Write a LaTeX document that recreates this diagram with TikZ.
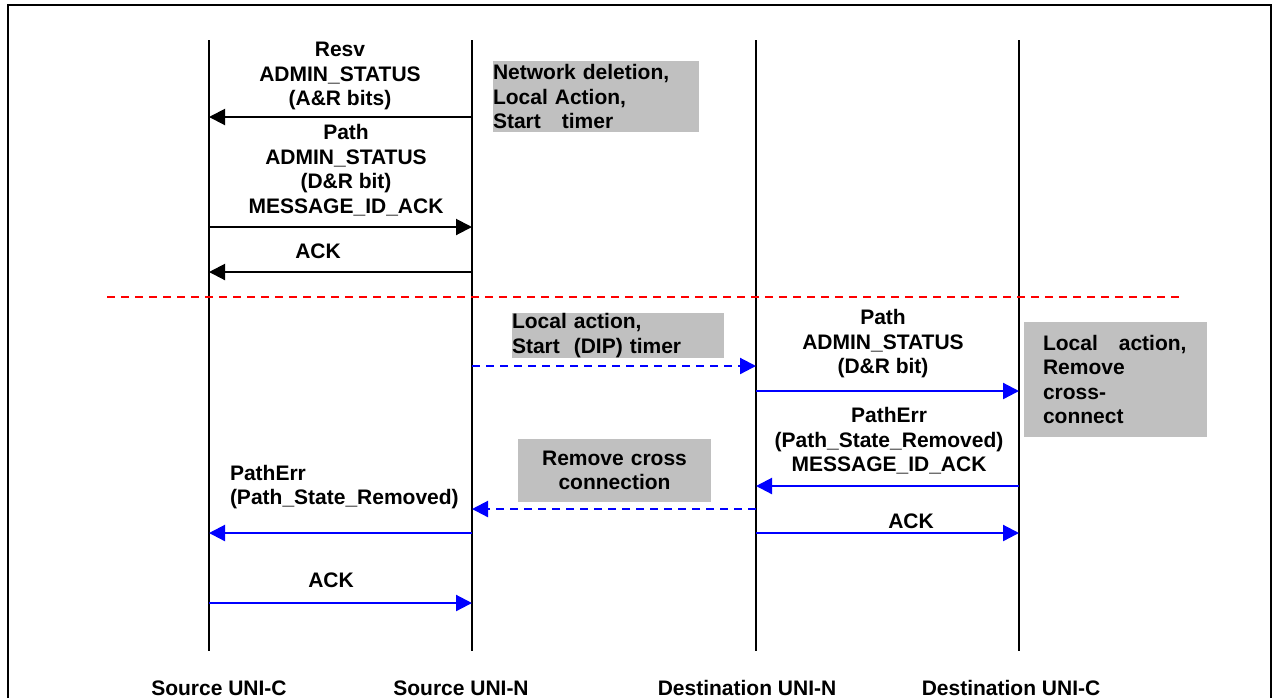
\documentclass[tikz,border=0pt]{standalone}
\usepackage{fontspec}
\setmainfont{Liberation Sans}
\usetikzlibrary{arrows.meta}

\definecolor{boxgray}{RGB}{192,192,192}

\begin{document}
\begin{tikzpicture}[x=0.5pt, y=-0.5pt, line width=1pt,
  every node/.style={font=\fontsize{10.5}{12.25}\selectfont\bfseries, inner sep=0pt},
  msg/.style={-{Triangle[length=8pt,width=8pt]}},
  blue msg/.style={msg, blue, line width=1.1pt},
  dip/.style={blue msg, dash pattern=on 4pt off 3pt},
  note/.style={fill=boxgray, align=left, text width=#1},
  lbl/.style={align=center}]

\useasboundingbox (0,0) rectangle (1272,698);

% frame
\draw[line width=1.2pt] (8,698) -- (8,5) -- (1271,5) -- (1271,698);

% lifelines and message rows
\foreach \life/\x in {srcC/209, srcN/472, dstN/756, dstC/1019}{
  \coordinate (\life-top) at (\x,40);
  \coordinate (\life-bot) at (\x,651);
  \foreach \row/\y in {resv/117, path/227, ack/272, dip/366, pathd/391, errd/486, rmv/509, errs/533, ackd/533, acks/603}
    \coordinate (\life-\row) at (\x,\y);
  \draw (\life-top) -- (\life-bot);
}

% separator
\coordinate (sep-l) at (107,297);
\coordinate (sep-r) at (1180,297);
\draw[red, dash pattern=on 4pt off 3pt] (sep-l) -- (sep-r);

% upper part
\draw[msg] (srcN-resv) -- (srcC-resv);
\draw[msg] (srcC-path) -- (srcN-path);
\draw[msg] (srcN-ack) -- (srcC-ack);
\node[lbl] (resv) at (340,76) {Resv\\ADMIN\_STATUS\\(A\&R bits)};
\node[lbl] (pathMsg) at (346,170) {Path\\ADMIN\_STATUS\\(D\&R bit)\\MESSAGE\_ID\_ACK};
\node (ackUp) at (318,251) {ACK};
\node[note=103pt, minimum height=35.5pt] (netDel) at (596,96.5) {Network deletion,\\Local Action,\\Start~~~timer};

% lower part
\draw[dip] (srcN-dip) -- (dstN-dip);
\draw[blue msg] (dstN-pathd) -- (dstC-pathd);
\draw[blue msg] (dstC-errd) -- (dstN-errd);
\draw[dip] (dstN-rmv) -- (srcN-rmv);
\draw[blue msg] (srcN-errs) -- (srcC-errs);
\draw[blue msg] (dstN-ackd) -- (dstC-ackd);
\draw[blue msg] (srcC-acks) -- (srcN-acks);
\node[note=106pt, minimum height=22.5pt] (dipNote) at (618,335.5) {Local action,\\Start~~(DIP) timer};
\node[lbl] (pathDst) at (883,344) {Path\\ADMIN\_STATUS\\(D\&R bit)};
\node[note=72.5pt, inner xsep=9.5pt, minimum height=57.5pt] (xcNote) at (1115.5,379.5) {Local~~~action,\\Remove\\cross-\\connect};
\node[lbl] (errDst) at (889,441) {PathErr\\(Path\_State\_Removed)\\MESSAGE\_ID\_ACK};
\node[note=96.5pt, align=center, minimum height=31.5pt] (rmvNote) at (614.5,470.5) {Remove cross\\connection};
\node[anchor=west, align=left] (errSrc) at (229,487) {PathErr\\(Path\_State\_Removed)};
\node (ackDst) at (911,521) {ACK};
\node (ackSrc) at (331,580) {ACK};

% entity names
\node (nSrcC) at (219,688) {Source UNI-C};
\node (nSrcN) at (461,688) {Source UNI-N};
\node (nDstN) at (747,688) {Destination UNI-N};
\node (nDstC) at (1011,688) {Destination UNI-C};

\end{tikzpicture}
\end{document}
